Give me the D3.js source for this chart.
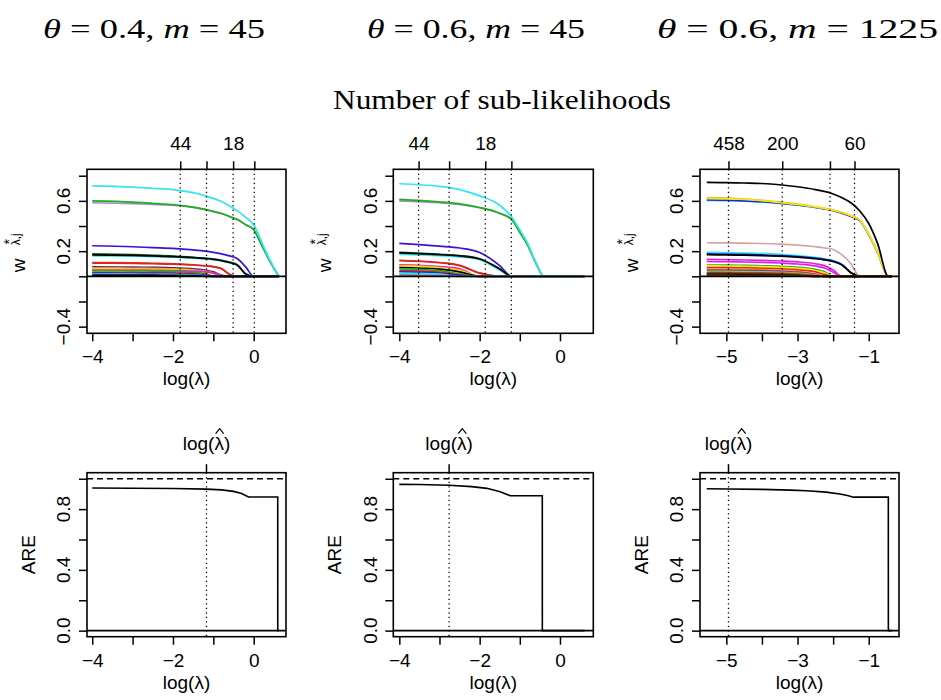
<!DOCTYPE html>
<html>
<head>
<meta charset="utf-8">
<title>Sub-likelihood weights and ARE</title>
<style>
  body { margin: 0; background: #fff; }
  svg { display: block; }
</style>
</head>
<body>
<div id="chart"></div>
<script src="https://d3js.org/d3.v7.min.js"></script>
<script>
// ---- data ----
var titleTheta = ["0.4", "0.6", "0.6"];
var titleM = ["45", "45", "1225"];

// log(lambda) grids used by the weight paths
var gridA = [-4, -3, -2.5, -2, -1.5, -1.2, -1, -0.8, -0.6, -0.4, -0.2, 0, 0.2, 0.4, 0.62];
var gridB = [-5.55, -5, -4.5, -4, -3.5, -3, -2.5, -2.25, -2, -1.75, -1.5, -1.25, -1, -0.75, -0.45, -0.35];

// positions of the "number of sub-likelihoods" markers (top axis)
var cutPoints = [[-1.82, -1.17, -0.51, 0.015], [-3.52, -2.76, -1.86, -1.21], [-4.94, -3.43, -2.09, -1.40]];
var cutLabels = [["44", "", "18", ""], ["44", "", "18", ""], ["458", "200", "", "60"]];
var lambdaHat = [-1.17, -2.76, -4.94];

var xTickVals = [[-4, -3, -2, -1, 0], [-4, -3, -2, -1, 0], [-5, -4, -3, -2, -1]];
var xTickShown = [[-4, -2, 0], [-4, -2, 0], [-5, -3, -1]];
var wTickVals = [-0.4, -0.2, 0, 0.2, 0.4, 0.6, 0.8];
var wTickShown = [-0.4, 0.2, 0.6];
var areTickVals = [0, 0.2, 0.4, 0.6, 0.8, 1.0];
var areTickShown = [0, 0.4, 0.8];

// panel 1: theta = 0.4, m = 45
var w1Colors = ["#9b8fc0", "#1fae1f", "#30e8ee", "#3b12d6", "#0b5d1e", "#30e8ee", "#000000", "#b5521b", "#e62020",
  "#4b2a6e", "#ff9f1a", "#f2f20d", "#e020e0", "#1fae1f", "#e62020", "#2020e6", "#30e8ee", "#000000"];
var w1Values = [
  [.585, .578, .572, .565, .548, .530, .515, .500, .475, .450, .410, .370, .245, .120, 0],
  [.600, .590, .580, .570, .550, .532, .516, .500, .476, .451, .411, .371, .246, .121, 0],
  [.720, .710, .700, .690, .665, .640, .620, .595, .560, .520, .470, .410, .270, .130, 0],
  [.243, .235, .228, .222, .210, .200, .190, .178, .163, .140, .075, 0, 0, 0, 0],
  [.178, .172, .167, .161, .151, .144, .138, .128, .113, .090, .020, 0, 0, 0, 0],
  [.163, .160, .157, .153, .145, .138, .132, .122, .108, .085, .018, 0, 0, 0, 0],
  [.170, .166, .162, .157, .148, .141, .135, .125, .110, .087, .019, 0, 0, 0, 0],
  [.110, .107, .104, .100, .092, .084, .077, .062, .016, 0, 0, 0, 0, 0, 0],
  [.105, .103, .100, .097, .090, .082, .075, .060, .015, 0, 0, 0, 0, 0, 0],
  [.075, .073, .071, .068, .060, .050, .035, .010, 0, 0, 0, 0, 0, 0, 0],
  [.066, .064, .062, .059, .050, .040, .026, .005, 0, 0, 0, 0, 0, 0, 0],
  [.058, .056, .054, .052, .045, .037, .022, 0, 0, 0, 0, 0, 0, 0, 0],
  [.050, .049, .048, .046, .042, .036, .026, .004, 0, 0, 0, 0, 0, 0, 0],
  [.045, .044, .042, .040, .032, .022, 0, 0, 0, 0, 0, 0, 0, 0, 0],
  [.032, .031, .030, .028, .022, .014, 0, 0, 0, 0, 0, 0, 0, 0, 0],
  [.025, .024, .023, .021, .016, .008, 0, 0, 0, 0, 0, 0, 0, 0, 0],
  [.018, .017, .016, .015, .010, .004, 0, 0, 0, 0, 0, 0, 0, 0, 0],
  [.010, .010, .009, .008, .005, 0, 0, 0, 0, 0, 0, 0, 0, 0, 0]
];

// panel 2: theta = 0.6, m = 45
var w2Colors = ["#9b8fc0", "#1fae1f", "#30e8ee", "#3b12d6", "#0b5d1e", "#30e8ee", "#000000", "#b5521b", "#e62020",
  "#e020e0", "#ff9f1a", "#f2f20d", "#000000", "#1fae1f", "#e62020", "#2020e6", "#30e8ee", "#888888"];
var w2Values = [
  [.600, .585, .572, .545, .500, .450, .350, .245, .105, 0, 0, 0, 0, 0, 0],
  [.612, .592, .576, .547, .501, .451, .351, .246, .106, 0, 0, 0, 0, 0, 0],
  [.736, .715, .690, .640, .565, .470, .370, .260, .110, 0, 0, 0, 0, 0, 0],
  [.262, .240, .225, .190, .085, 0, 0, 0, 0, 0, 0, 0, 0, 0, 0],
  [.190, .175, .165, .140, .060, 0, 0, 0, 0, 0, 0, 0, 0, 0, 0],
  [.175, .165, .155, .132, .050, 0, 0, 0, 0, 0, 0, 0, 0, 0, 0],
  [.186, .172, .162, .138, .058, 0, 0, 0, 0, 0, 0, 0, 0, 0, 0],
  [.128, .110, .088, .027, 0, 0, 0, 0, 0, 0, 0, 0, 0, 0, 0],
  [.124, .108, .085, .025, 0, 0, 0, 0, 0, 0, 0, 0, 0, 0, 0],
  [.092, .078, .060, 0, 0, 0, 0, 0, 0, 0, 0, 0, 0, 0, 0],
  [.085, .070, .050, 0, 0, 0, 0, 0, 0, 0, 0, 0, 0, 0, 0],
  [.080, .066, .045, 0, 0, 0, 0, 0, 0, 0, 0, 0, 0, 0, 0],
  [.070, .057, .035, 0, 0, 0, 0, 0, 0, 0, 0, 0, 0, 0, 0],
  [.060, .045, .020, 0, 0, 0, 0, 0, 0, 0, 0, 0, 0, 0, 0],
  [.045, .034, .012, 0, 0, 0, 0, 0, 0, 0, 0, 0, 0, 0, 0],
  [.035, .025, .008, 0, 0, 0, 0, 0, 0, 0, 0, 0, 0, 0, 0],
  [.025, .017, 0, 0, 0, 0, 0, 0, 0, 0, 0, 0, 0, 0, 0],
  [.012, .008, 0, 0, 0, 0, 0, 0, 0, 0, 0, 0, 0, 0, 0]
];

// panel 3: theta = 0.6, m = 1225
var w3Colors = ["#30e8ee", "#2020e6", "#ff9f1a", "#f2e80d", "#000000", "#d4a5a5", "#30e8ee", "#2020e6", "#000000",
  "#e020e0", "#e020e0", "#1fae1f", "#f2f20d", "#e62020", "#ff9f1a", "#7b2fbf", "#7fd13b", "#e62020", "#0b5d1e", "#000000", "#8b4513"];
var w3Values = [
  [.604, .602, .597, .590, .580, .566, .548, .537, .525, .505, .480, .445, .333, .190, 0, 0],
  [.607, .605, .600, .593, .582, .567, .548, .536, .522, .502, .476, .442, .330, .188, 0, 0],
  [.625, .622, .615, .605, .590, .574, .553, .540, .527, .507, .482, .447, .335, .190, 0, 0],
  [.620, .618, .612, .602, .587, .572, .552, .540, .527, .507, .481, .446, .334, .190, 0, 0],
  [.747, .745, .742, .738, .728, .712, .690, .675, .655, .625, .585, .520, .420, .260, 0, 0],
  [.267, .266, .264, .261, .256, .248, .235, .226, .213, .170, .100, 0, 0, 0, 0, 0],
  [.190, .188, .185, .182, .175, .165, .150, .140, .125, .095, .030, 0, 0, 0, 0, 0],
  [.178, .176, .174, .170, .165, .157, .144, .135, .121, .092, .029, 0, 0, 0, 0, 0],
  [.172, .170, .168, .165, .160, .152, .140, .131, .118, .090, .028, 0, 0, 0, 0, 0],
  [.135, .133, .130, .127, .122, .115, .100, .085, .050, 0, 0, 0, 0, 0, 0, 0],
  [.118, .116, .114, .111, .106, .098, .083, .066, .033, 0, 0, 0, 0, 0, 0, 0],
  [.090, .089, .087, .084, .080, .072, .055, .038, 0, 0, 0, 0, 0, 0, 0, 0],
  [.083, .082, .080, .077, .072, .064, .046, .028, 0, 0, 0, 0, 0, 0, 0, 0],
  [.070, .069, .067, .064, .060, .052, .035, .015, 0, 0, 0, 0, 0, 0, 0, 0],
  [.060, .059, .057, .054, .049, .040, .022, 0, 0, 0, 0, 0, 0, 0, 0, 0],
  [.050, .049, .047, .045, .041, .033, .015, 0, 0, 0, 0, 0, 0, 0, 0, 0],
  [.040, .039, .038, .036, .032, .025, .010, 0, 0, 0, 0, 0, 0, 0, 0, 0],
  [.030, .029, .028, .027, .024, .018, .005, 0, 0, 0, 0, 0, 0, 0, 0, 0],
  [.022, .021, .020, .019, .016, .010, 0, 0, 0, 0, 0, 0, 0, 0, 0, 0],
  [.014, .014, .013, .012, .010, .005, 0, 0, 0, 0, 0, 0, 0, 0, 0, 0],
  [.007, .007, .006, .006, .005, .002, 0, 0, 0, 0, 0, 0, 0, 0, 0, 0]
];

// asymptotic relative efficiency
var are1X = [-4, -3, -2, -1.17, -0.8, -0.5, -0.3, -0.13, 0.3, 0.595, 0.596, 0.62];
var are1Y = [0.939, 0.938, 0.936, 0.932, 0.927, 0.917, 0.903, 0.880, 0.880, 0.880, 0, 0];
var are2X = [-4, -3.5, -2.76, -2.2, -1.82, -1.49, -1.24, -0.8, -0.44, -0.439, 0.62];
var are2Y = [0.963, 0.962, 0.957, 0.948, 0.937, 0.915, 0.888, 0.888, 0.888, 0, 0];
var are3X = [-5.55, -4.94, -4, -3.2, -2.74, -2.2, -1.81, -1.6, -1.43, -1, -0.45, -0.449, -0.35];
var are3Y = [0.934, 0.933, 0.930, 0.925, 0.921, 0.912, 0.900, 0.890, 0.879, 0.879, 0.879, 0, 0];

// ---- layout ----
var sans = '"Liberation Sans", Arial, Helvetica, sans-serif';
var serif = '"Liberation Serif", "Times New Roman", serif';
var fs = 19;

var panelLeft = [87, 393.3, 700];
var panelWidth = [199, 200, 199];
var topRow = [169.3, 333.3];
var botRow = [472.7, 636.7];
var xDomains = [[-4.13, 0.80], [-4.15, 0.83], [-5.74, -0.15]];

var svg = d3.select("#chart").append("svg")
    .attr("width", 941)
    .attr("height", 700);

svg.append("rect").attr("width", 941).attr("height", 700).attr("fill", "#fff");

// titles (LaTeX-set in the original)
var titleX = [43, 367, 657];
var titleW = [222, 218, 281];
titleTheta.forEach(function(t, i) {
  var tx = svg.append("text")
      .attr("x", titleX[i]).attr("y", 38)
      .attr("textLength", titleW[i])
      .attr("lengthAdjust", "spacingAndGlyphs")
      .style("font-family", serif).style("font-size", "27px");
  tx.append("tspan").style("font-style", "italic").text("\u03b8");
  tx.append("tspan").text(" = " + t + ", ");
  tx.append("tspan").style("font-style", "italic").text("m");
  tx.append("tspan").text(" = " + titleM[i]);
});

svg.append("text")
    .attr("x", 502).attr("y", 109)
    .attr("text-anchor", "middle")
    .attr("textLength", 338)
    .attr("lengthAdjust", "spacingAndGlyphs")
    .style("font-family", serif).style("font-size", "27px")
    .text("Number of sub-likelihoods");

function label(g, x, y, txt, opts) {
  opts = opts || {};
  var t = g.append("text")
      .attr("x", x).attr("y", y)
      .attr("text-anchor", opts.anchor || "middle")
      .style("font-family", sans)
      .style("font-size", (opts.size || fs) + "px")
      .text(txt);
  if (opts.rotate) t.attr("transform", "rotate(-90," + x + "," + y + ")");
  return t;
}

function fmt(v) {
  return d3.format(".1f")(v);
}

function drawPanel(i, row, yDom, yTicks, yShown) {
  var left = panelLeft[i], right = left + panelWidth[i];
  var top = row[0], bottom = row[1];
  var x = d3.scaleLinear().domain(xDomains[i]).range([left, right]);
  var y = d3.scaleLinear().domain(yDom).range([bottom, top]);
  var g = svg.append("g");

  // bottom ticks
  var xAxis = d3.axisBottom(x).tickValues(xTickVals[i]).tickSize(8).tickPadding(8.5)
      .tickFormat(function(d) { return xTickShown[i].indexOf(d) >= 0 ? d3.format("d")(d) : ""; });
  var ax = g.append("g").attr("transform", "translate(0," + bottom + ")").call(xAxis);
  ax.select(".domain").remove();
  ax.selectAll("line").attr("stroke", "#000").attr("stroke-width", 1.5);
  ax.selectAll("text").style("font-family", sans).style("font-size", fs + "px").attr("fill", "#000");

  // left ticks
  var yAxis = d3.axisLeft(y).tickValues(yTicks).tickSize(8).tickFormat("");
  var ay = g.append("g").attr("transform", "translate(" + left + ",0)").call(yAxis);
  ay.select(".domain").remove();
  ay.selectAll("line").attr("stroke", "#000").attr("stroke-width", 1.5);
  yShown.forEach(function(v) {
    label(g, left - 16.5, y(v), fmt(v).replace("-", "\u2212"), { rotate: true });
  });

  label(g, (left + right) / 2, bottom + 52, "log(\u03bb)");
  return { g: g, x: x, y: y, left: left, right: right, top: top, bottom: bottom };
}

function finishBox(p) {
  p.g.append("rect")
      .attr("x", p.left).attr("y", p.top)
      .attr("width", p.right - p.left).attr("height", p.bottom - p.top)
      .attr("fill", "none").attr("stroke", "#000").attr("stroke-width", 1.6);
}

var weightSets = [[gridA, w1Values, w1Colors], [gridA, w2Values, w2Colors], [gridB, w3Values, w3Colors]];
var areSets = [[are1X, are1Y], [are2X, are2Y], [are3X, are3Y]];

for (var i = 0; i < 3; i++) {
  // ---------- weights (top row) ----------
  var p = drawPanel(i, topRow, [-0.453, 0.851], wTickVals, wTickShown);
  var grid = weightSets[i][0];
  var line = d3.line()
      .x(function(d, k) { return p.x(grid[k]); })
      .y(function(d) { return p.y(d); })
      .curve(d3.curveMonotoneX);
  p.g.selectAll(".wpath")
      .data(weightSets[i][1])
      .enter().append("path")
      .attr("class", "wpath")
      .attr("d", line)
      .attr("fill", "none")
      .attr("stroke", function(d, k) { return weightSets[i][2][k]; })
      .attr("stroke-width", 1.7);

  // top axis with number of sub-likelihoods
  var cp = cutPoints[i], cl = cutLabels[i];
  var topAxis = d3.axisTop(p.x).tickValues(cp).tickSize(8).tickPadding(11)
      .tickFormat(function(d, k) { return cl[k]; });
  var at = p.g.append("g").attr("transform", "translate(0," + p.top + ")").call(topAxis);
  at.select(".domain").remove();
  at.selectAll("line").attr("stroke", "#000").attr("stroke-width", 1.5);
  at.selectAll("text").style("font-family", sans).style("font-size", fs + "px").attr("fill", "#000");

  p.g.selectAll(".cut")
      .data(cp)
      .enter().append("line")
      .attr("x1", function(d) { return p.x(d); }).attr("x2", function(d) { return p.x(d); })
      .attr("y1", p.top).attr("y2", p.bottom)
      .attr("stroke", "#000").attr("stroke-width", 1.3)
      .attr("stroke-dasharray", "1.3 3.2");

  p.g.append("line")
      .attr("x1", p.left).attr("x2", p.right)
      .attr("y1", p.y(0)).attr("y2", p.y(0))
      .attr("stroke", "#000").attr("stroke-width", 1.8);
  finishBox(p);

  // y label  w*_{lambda,j}
  var cy = (p.top + p.bottom) / 2;
  label(p.g, p.left - 62, cy + 21, "w", { rotate: true, anchor: "start", size: 19 });
  label(p.g, p.left - 67, cy - 6, "\u03bb,j", { rotate: true, anchor: "start", size: 12 });
  label(p.g, p.left - 73, cy - 9.5, "*", { rotate: true, anchor: "middle", size: 14 });

  // ---------- ARE (bottom row) ----------
  var q = drawPanel(i, botRow, [-0.04, 1.04], areTickVals, areTickShown);
  var ax_ = areSets[i][0];
  var areLine = d3.line()
      .x(function(d, k) { return q.x(ax_[k]); })
      .y(function(d) { return q.y(d); });

  q.g.append("line")
      .attr("x1", q.left).attr("x2", q.right)
      .attr("y1", q.y(1)).attr("y2", q.y(1))
      .attr("stroke", "#000").attr("stroke-width", 1.4)
      .attr("stroke-dasharray", "6 4");
  q.g.append("line")
      .attr("x1", q.x(lambdaHat[i])).attr("x2", q.x(lambdaHat[i]))
      .attr("y1", q.top).attr("y2", q.bottom)
      .attr("stroke", "#000").attr("stroke-width", 1.3)
      .attr("stroke-dasharray", "1.3 3.2");
  q.g.append("path")
      .datum(areSets[i][1])
      .attr("d", areLine)
      .attr("fill", "none").attr("stroke", "#000").attr("stroke-width", 1.6);
  q.g.append("line")
      .attr("x1", q.left).attr("x2", q.right)
      .attr("y1", q.y(0)).attr("y2", q.y(0))
      .attr("stroke", "#000").attr("stroke-width", 1.8);
  finishBox(q);

  // lambda-hat marker on the top axis
  var hx = q.x(lambdaHat[i]);
  q.g.append("line")
      .attr("x1", hx).attr("x2", hx).attr("y1", q.top - 8.5).attr("y2", q.top)
      .attr("stroke", "#000").attr("stroke-width", 1.5);
  var ht = label(q.g, hx, q.top - 22.5, "log(\u03bb)");
  var n = ht.node();
  var s0 = n.getStartPositionOfChar(4).x, s1 = n.getEndPositionOfChar(4).x;
  var mid = (s0 + s1) / 2 + 0.5;
  q.g.append("path")
      .attr("d", "M" + (mid - 4) + "," + (q.top - 39) + "L" + mid + "," + (q.top - 44) + "L" + (mid + 4) + "," + (q.top - 39))
      .attr("fill", "none").attr("stroke", "#000").attr("stroke-width", 1.2);

  label(q.g, q.left - 52, (q.top + q.bottom) / 2, "ARE", { rotate: true });
}
</script>
</body>
</html>
